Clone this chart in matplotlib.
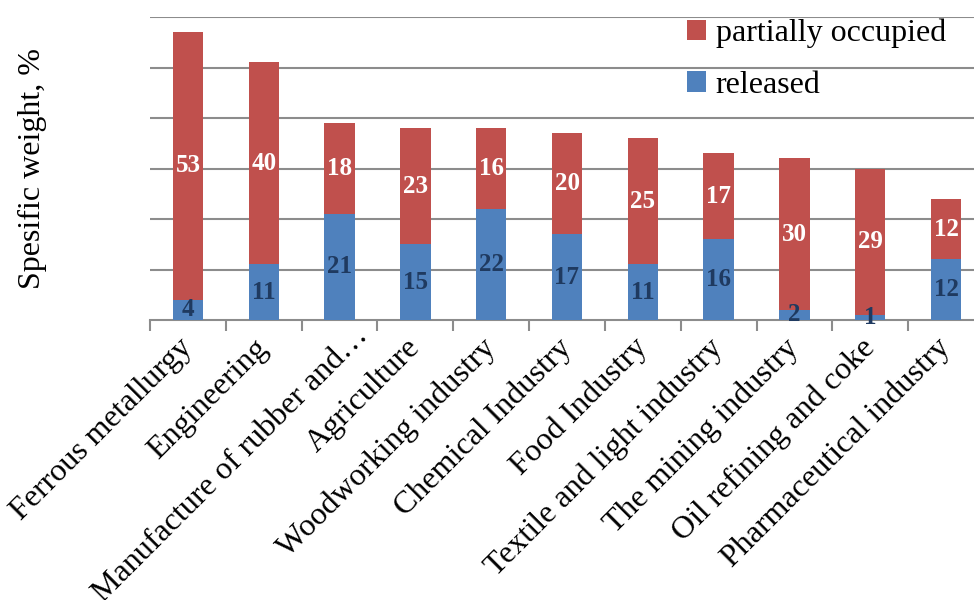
import numpy as np
import matplotlib.pyplot as plt
from matplotlib.transforms import ScaledTranslation

plt.rcParams['font.family'] = ['Liberation Serif', 'DejaVu Serif']

# Data
categories = ["Ferrous metallurgy", "Engineering", "Manufacture of rubber and\u2026",
              "Agriculture", "Woodworking industry", "Chemical Industry",
              "Food Industry", "Textile and light industry", "The mining industry",
              "Oil refining and coke", "Pharmaceutical industry"]
released = [4, 11, 21, 15, 22, 17, 11, 16, 2, 1, 12]
partial = [53, 40, 18, 23, 16, 20, 25, 17, 30, 29, 12]

red = '#C0504D'
blue = '#4F81BD'
grid_col = '#8C8C8C'

fig = plt.figure(figsize=(9.74, 6), dpi=100)
# axes runs a bit past the right edge, like the cropped original
ax = fig.add_axes([150 / 974, 1 - 320 / 600, 834 / 974, 303 / 600])

x = np.arange(len(categories))
b1 = ax.bar(x, released, width=0.4, color=blue, label='released', zorder=3)
b2 = ax.bar(x, partial, width=0.4, bottom=released, color=red,
            label='partially occupied', zorder=3)

# Value labels
for xi, r, p in zip(x, released, partial):
    ax.text(xi, r / 2, str(r), ha='center', va='center', fontsize=18,
            fontweight='bold', color='#1F3A60', zorder=4)
    ax.text(xi, r + p / 2, str(p), ha='center', va='center', fontsize=18,
            fontweight='bold', color='white', zorder=4)

ax.set_xlim(-0.5, len(categories) - 0.5)
ax.set_ylim(0, 60)
ax.set_yticks(np.arange(10, 61, 10))
ax.set_yticklabels([])
ax.tick_params(axis='y', length=0)
ax.grid(axis='y', color=grid_col, lw=1.5, zorder=0)

for s in ['top', 'right', 'left']:
    ax.spines[s].set_visible(False)
ax.spines['bottom'].set_color(grid_col)
ax.spines['bottom'].set_linewidth(1.5)

# category boundary ticks
ax.set_xticks(np.arange(-0.5, len(categories), 1), minor=True)
ax.tick_params(axis='x', which='minor', length=8, width=1.5, color=grid_col)
ax.set_xticks(x)
labels = ax.set_xticklabels(categories, rotation=45, ha='right', va='center',
                            rotation_mode='anchor', fontsize=23)
ax.tick_params(axis='x', which='major', length=0, pad=17)
# truncated label sits a little higher/right in the original
lab = labels[2]
lab.set_transform(lab.get_transform() + ScaledTranslation(24 / 100, 12 / 100, fig.dpi_scale_trans))

ax.set_ylabel('Spesific weight, %', fontsize=23)
ax.yaxis.set_label_coords(-0.1235, 0.5)

leg = ax.legend(handles=[b2, b1], loc='upper left',
                bbox_to_anchor=(674 / 974, 0.99), bbox_transform=fig.transFigure,
                frameon=False, fontsize=23, handlelength=0.6, handleheight=0.6,
                handletextpad=0.3, labelspacing=0.7, borderaxespad=0)

fig.savefig('out.png', dpi=100)
